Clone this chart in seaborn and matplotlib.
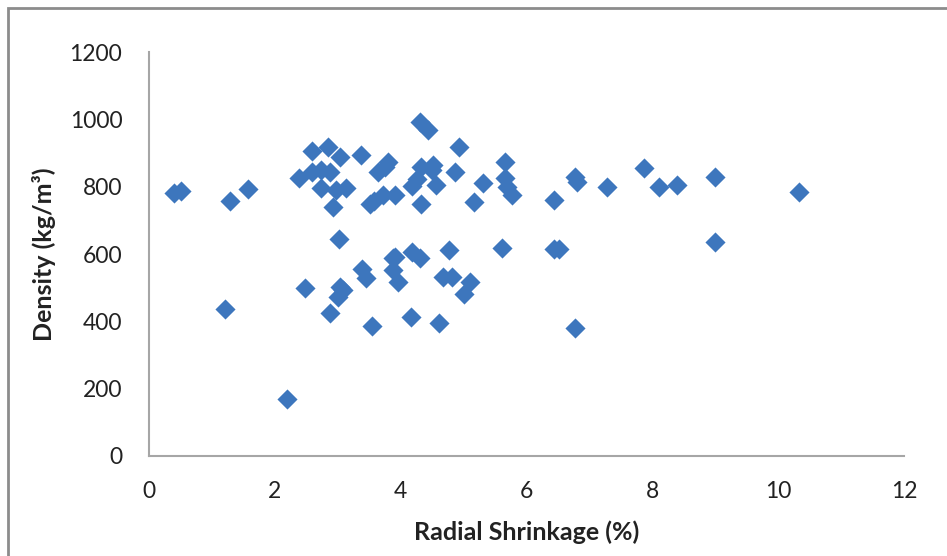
import matplotlib
matplotlib.use("Agg")
import matplotlib.pyplot as plt
import seaborn as sns
import pandas as pd
from matplotlib.patches import Rectangle

# Radial shrinkage (%) and density (kg/m3)
shrinkage = [
    0.41, 0.52, 1.29, 1.57, 1.21, 2.20, 2.38, 2.48, 2.59, 2.59,
    2.74, 2.74, 2.85, 2.88, 2.88, 2.92, 2.98, 3.04, 3.04, 3.09,
    3.01, 3.03, 3.14, 3.37, 3.38, 3.45, 3.51, 3.58, 3.55, 3.64,
    3.72, 3.75, 3.80, 3.91, 3.88, 3.91, 3.88, 3.96, 4.18, 4.26,
    4.18, 4.16, 4.31, 4.33, 4.31, 4.33, 4.44, 4.52, 4.50, 4.57,
    4.61, 4.68, 4.77, 4.81, 4.86, 4.92, 5.00, 5.10, 5.16, 5.31,
    5.61, 5.66, 5.66, 5.69, 5.77, 6.43, 6.43, 6.51, 6.77, 6.80,
    6.77, 7.28, 7.87, 8.11, 8.39, 8.99, 9.00, 10.33,
]
density = [
    781, 788, 757, 793, 437, 169, 825, 500, 907, 845,
    850, 795, 918, 845, 426, 741, 790, 888, 503, 493,
    473, 645, 795, 894, 557, 530, 750, 758, 386, 845,
    775, 860, 874, 775, 552, 592, 587, 518, 802, 822,
    607, 412, 993, 859, 587, 750, 970, 864, 850, 805,
    394, 533, 612, 531, 845, 918, 481, 518, 755, 812,
    617, 874, 825, 800, 775, 762, 614, 614, 830, 815,
    381, 800, 856, 800, 805, 830, 636, 785,
]

df = pd.DataFrame({"Radial Shrinkage (%)": shrinkage, "Density": density})

sns.set_style("white")
plt.rcParams['font.family'] = ['Lato', 'DejaVu Sans']

fig = plt.figure(figsize=(9.47, 5.56), dpi=100)
ax = fig.add_axes([0.157, 0.18, 0.798, 0.726])

sns.scatterplot(data=df, x="Radial Shrinkage (%)", y="Density", marker="D",
                s=105, color="#3D76BD", edgecolor="#3D76BD", linewidth=0, ax=ax)

ax.set_xlim(0, 12)
ax.set_ylim(0, 1200)
ax.set_xticks(range(0, 13, 2))
ax.set_yticks(range(0, 1201, 200))
ax.tick_params(axis="both", length=0, labelsize=16.5, colors="#222222")
ax.tick_params(axis="y", pad=19)
ax.tick_params(axis="x", pad=18)

ax.set_xlabel("Radial Shrinkage (%)", fontsize=18, fontweight="bold", color="#222222", labelpad=13)
ax.set_ylabel("Density (kg/m³)", fontsize=18, fontweight="bold", color="#222222", labelpad=10)

for side in ["top", "right"]:
    ax.spines[side].set_visible(False)
for side in ["left", "bottom"]:
    ax.spines[side].set_color("#A6A6A6")
    ax.spines[side].set_linewidth(1.5)

# outer chart frame (only top and left edges visible in the crop)
fig.patches.append(Rectangle((7.5 / 947, -0.1), 1.2, 1 - 7.5 / 556 + 0.1,
                             transform=fig.transFigure, fill=False,
                             edgecolor="#8C8C8C", linewidth=2))

fig.savefig("out.png", dpi=100)
